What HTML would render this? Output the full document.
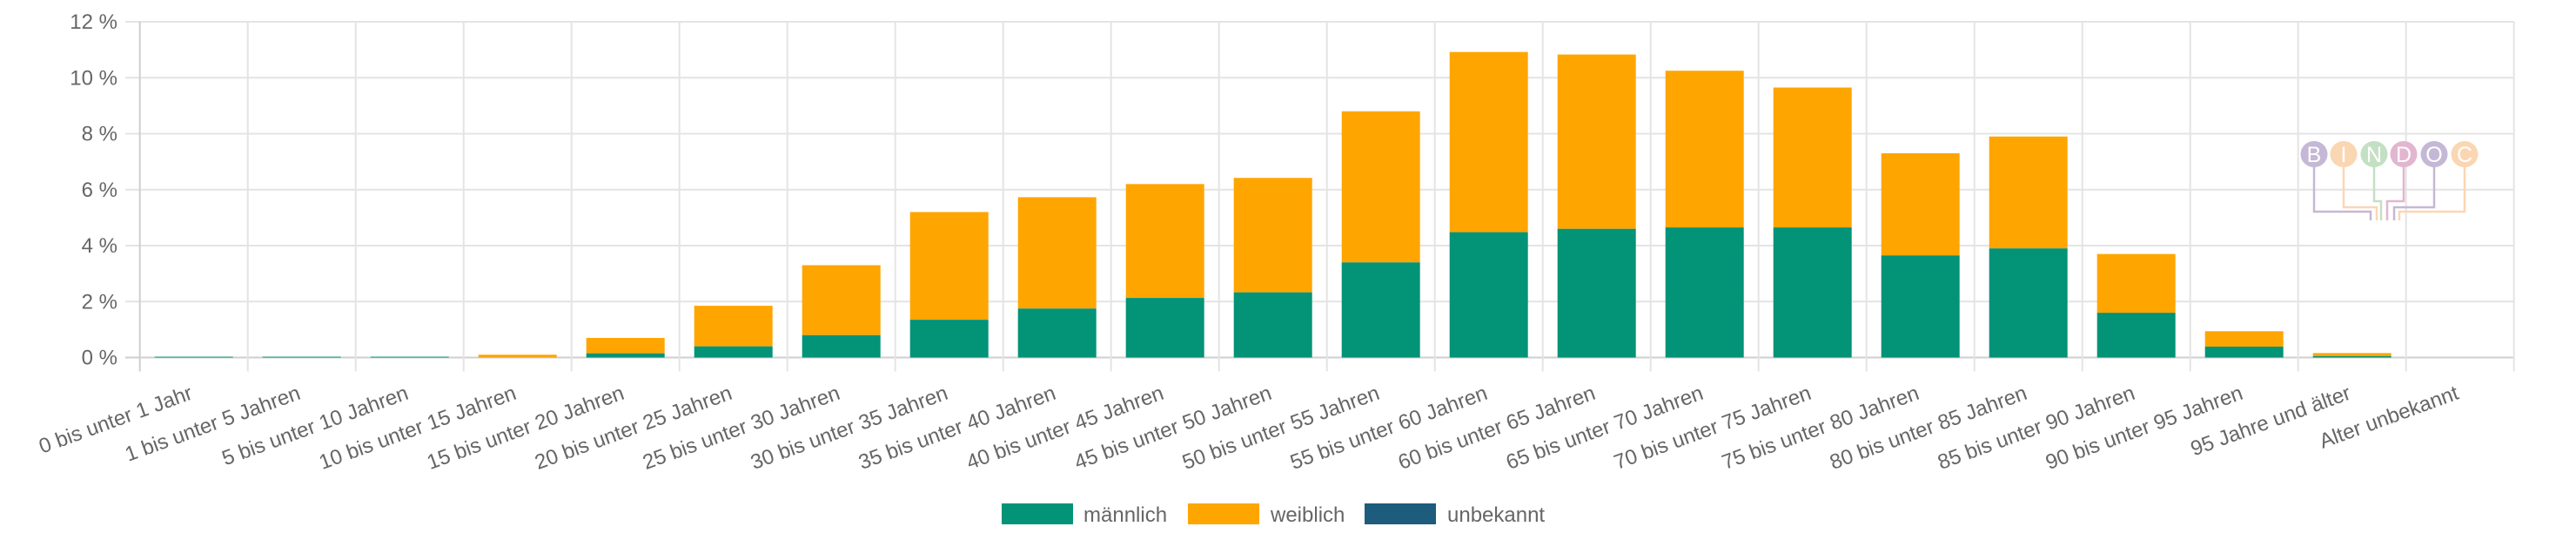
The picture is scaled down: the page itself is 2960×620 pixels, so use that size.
<!DOCTYPE html>
<html><head><meta charset="utf-8"><style>
html,body{margin:0;padding:0;background:#fff;}
svg{display:block;font-family:"Liberation Sans",sans-serif;}
</style></head><body>
<svg width="2960" height="620" viewBox="0 0 2960 620" xmlns="http://www.w3.org/2000/svg">
<g id="grid" stroke="#e4e4e4" stroke-width="2"></g>
<g id="bars"></g>
<g id="labels" fill="#666" font-size="24"></g>
<g id="logo" fill="none" stroke-width="2.5"></g>
<g font-size="24" fill="#666">
<rect x="1151" y="578" width="82" height="24" fill="#039377"/>
<text x="1245" y="599">männlich</text>
<rect x="1365" y="578" width="82" height="24" fill="#ffa500"/>
<text x="1460" y="599">weiblich</text>
<rect x="1568" y="578" width="82" height="24" fill="#1d5c7c"/>
<text x="1663" y="599">unbekannt</text>
</g>
</svg>
<script>
const NS="http://www.w3.org/2000/svg";
function el(p,t,a,txt){const e=document.createElementNS(NS,t);for(const k in a)e.setAttribute(k,a[k]);if(txt!=null)e.textContent=txt;document.getElementById(p).appendChild(e);return e;}
const x0=160.7,cw=124.0,y0=410.5,yt=25,pp=(y0-yt)/12;
const cats=["0 bis unter 1 Jahr","1 bis unter 5 Jahren","5 bis unter 10 Jahren","10 bis unter 15 Jahren","15 bis unter 20 Jahren","20 bis unter 25 Jahren","25 bis unter 30 Jahren","30 bis unter 35 Jahren","35 bis unter 40 Jahren","40 bis unter 45 Jahren","45 bis unter 50 Jahren","50 bis unter 55 Jahren","55 bis unter 60 Jahren","60 bis unter 65 Jahren","65 bis unter 70 Jahren","70 bis unter 75 Jahren","75 bis unter 80 Jahren","80 bis unter 85 Jahren","85 bis unter 90 Jahren","90 bis unter 95 Jahren","95 Jahre und älter","Alter unbekannt"];
const m=[0.03,0.03,0.03,0,0.15,0.4,0.8,1.35,1.75,2.13,2.33,3.4,4.48,4.6,4.65,4.65,3.65,3.9,1.6,0.39,0.05,0];
const t=[0.03,0.03,0.03,0.1,0.7,1.85,3.3,5.2,5.73,6.2,6.42,8.8,10.92,10.83,10.25,9.65,7.3,7.9,3.7,0.94,0.16,0];
const xEnd=x0+22*cw;
for(let i=0;i<=6;i++){const y=y0-i*2*pp;el("grid","line",{x1:144,x2:xEnd,y1:y,y2:y,stroke:i==0?"#cfcfcf":"#e4e4e4"});
el("labels","text",{x:135,y:y+8,"text-anchor":"end"},(i*2)+" %");}
for(let i=0;i<=22;i++){const x=x0+i*cw;el("grid","line",{x1:x,x2:x,y1:yt,y2:y0+16,stroke:i==0?"#cfcfcf":"#e4e4e4"});}
cats.forEach((c,i)=>{const cx=x0+i*cw+cw/2,bx=cx-45;
if(t[i]>0){const yT=y0-t[i]*pp,yM=y0-m[i]*pp;
el("bars","rect",{x:bx,y:yT,width:90,height:yM-yT,fill:"#ffa500"});
if(m[i]>0)el("bars","rect",{x:bx,y:yM,width:90,height:y0-yM,fill:"#039377"});}
el("labels","text",{x:cx,y:y0+47,"text-anchor":"end",transform:`rotate(-20 ${cx} ${y0+47})`},c);});
const L=[["B",2659,"#c5b8d6",243,2724],["I",2693,"#fbd6b3",238,2731],["N",2728,"#c4e0c4",231,2736],["D",2762,"#e2b6d0",231,2743],["O",2797,"#c5b8d6",238,2751],["C",2832,"#fbd6b3",243,2757]];
L.forEach(([ch,x,col,yb,xe])=>{
el("logo","path",{d:`M${x} 185 V${yb} H${xe} V253`,stroke:col});
el("logo","ellipse",{cx:x,cy:177,rx:15.5,ry:15,fill:col,stroke:"none"});
el("logo","text",{x:x,y:186,"text-anchor":"middle",fill:"#fff",stroke:"none","font-size":"25"},ch);});
</script>
</body></html>
